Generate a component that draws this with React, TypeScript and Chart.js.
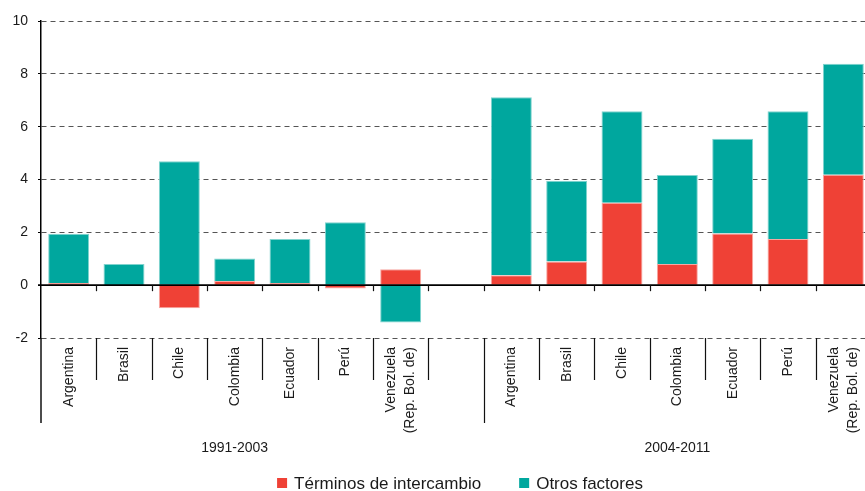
import React, { useEffect, useRef } from "react";
import { Chart, registerables } from "chart.js";

Chart.register(...registerables);

const FONT = "'Liberation Sans', Arial, Helvetica, sans-serif";

// Categories (each label may hold several lines)
const countries: string[][] = [
  ["Argentina"],
  ["Brasil"],
  ["Chile"],
  ["Colombia"],
  ["Ecuador"],
  ["Perú"],
  ["Venezuela", "(Rep. Bol. de)"],
];
const periods = ["1991-2003", "2004-2011"];
const seriesNames = ["Términos de intercambio", "Otros factores"];

// Series values
const terminos1991 = [0.08, 0.01, -0.87, 0.16, 0.08, -0.13, 0.6];
const otros1991 = [1.87, 0.79, 4.69, 0.85, 1.67, 2.38, -1.41];
const terminos2004 = [0.38, 0.9, 3.12, 0.8, 1.96, 1.75, 4.18];
const otros2004 = [6.73, 3.05, 3.46, 3.37, 3.58, 4.83, 4.2];

// Axis
const yMin = -2;
const yMax = 10;
const yStep = 2;

const RED = "#EF4136";
const TEAL = "#00A79E";

const labelLines: string[][] = [...countries, [""], ...countries];
const labels = labelLines.map((l) => l.join(" "));
const terminosData = [...terminos1991, null, ...terminos2004];
const otrosData = [...otros1991, null, ...otros2004];

const overlay = {
  id: "overlay",
  afterDatasetsDraw(chart: any) {
    const { ctx, chartArea: ca, scales } = chart;
    const xs = scales.x;
    const ys = scales.y;
    const y0 = ys.getPixelForValue(0);
    const n = labels.length;
    const groupBounds = [0, countries.length + 1, n];
    ctx.save();

    // zero line
    ctx.strokeStyle = "#000";
    ctx.lineWidth = 1.6;
    ctx.beginPath();
    ctx.moveTo(ca.left - 3, y0);
    ctx.lineTo(ca.right, y0);
    ctx.stroke();

    // slot separators
    for (let i = 0; i <= n; i++) {
      const bx = Math.round(xs.getPixelForValue(i - 0.5)) + 0.5;
      ctx.strokeStyle = "#111";
      if (i > 0) {
        ctx.lineWidth = 1.2;
        ctx.beginPath();
        ctx.moveTo(bx, y0);
        ctx.lineTo(bx, y0 + 6);
        ctx.stroke();
      }
      const long = groupBounds.includes(i);
      ctx.lineWidth = i === 0 ? 1.5 : 1.2;
      ctx.beginPath();
      ctx.moveTo(i === 0 ? ca.left : bx, ca.bottom);
      ctx.lineTo(i === 0 ? ca.left : bx, ca.bottom + (long ? 85 : 42));
      ctx.stroke();
    }

    // category labels (rotated)
    ctx.font = `14px ${FONT}`;
    ctx.fillStyle = "#1a1a1a";
    ctx.textAlign = "right";
    ctx.textBaseline = "middle";
    labelLines.forEach((lines, i) => {
      const cx = xs.getPixelForValue(i);
      lines.forEach((ln, j) => {
        if (!ln) return;
        ctx.save();
        ctx.translate(cx + (j - (lines.length - 1) / 2) * 19, ca.bottom + 9);
        ctx.rotate(-Math.PI / 2);
        ctx.fillText(ln, 0, 0);
        ctx.restore();
      });
    });

    // period labels
    ctx.textAlign = "center";
    periods.forEach((p, g) => {
      const first = g * (countries.length + 1);
      const last = first + countries.length - 1;
      const cx = (xs.getPixelForValue(first) + xs.getPixelForValue(last)) / 2;
      ctx.fillText(p, cx, ca.bottom + 110);
    });

    // legend
    ctx.font = `17px ${FONT}`;
    ctx.textAlign = "left";
    const box = 10;
    const gapBox = 7;
    const gapItem = 38;
    const widths = seriesNames.map((s) => ctx.measureText(s).width);
    const total = widths.reduce((a, w) => a + box + gapBox + w, 0) + gapItem;
    let lx = (ca.left + ca.right) / 2 + 4 - total / 2;
    const ly = ca.bottom + 145;
    [RED, TEAL].forEach((c, k) => {
      ctx.fillStyle = c;
      ctx.fillRect(lx, ly - box / 2, box, box);
      ctx.fillStyle = "#1a1a1a";
      ctx.fillText(seriesNames[k], lx + box + gapBox, ly + 1);
      lx += box + gapBox + widths[k] + gapItem;
    });
    ctx.restore();
  },
};

export default function App() {
  const ref = useRef<HTMLCanvasElement | null>(null);
  useEffect(() => {
    if (!ref.current) return;
    const chart = new Chart(ref.current, {
      type: "bar",
      data: {
        labels,
        datasets: [
          {
            label: seriesNames[0],
            data: terminosData as any,
            backgroundColor: RED,
            borderColor: "#F7A7A1",
            borderWidth: 1,
            stack: "s",
          },
          {
            label: seriesNames[1],
            data: otrosData as any,
            backgroundColor: TEAL,
            borderColor: "#80D3CE",
            borderWidth: 1,
            stack: "s",
          },
        ],
      },
      options: {
        animation: false,
        responsive: false,
        devicePixelRatio: 1,
        events: [],
        layout: { padding: { top: 21, right: 4, left: 0, bottom: 0 } },
        datasets: { bar: { barPercentage: 0.74, categoryPercentage: 1 } },
        plugins: { legend: { display: false }, tooltip: { enabled: false } },
        scales: {
          x: {
            stacked: true,
            grid: { display: false },
            border: { display: false },
            ticks: { display: false },
            afterFit: (s: any) => {
              s.height = 153;
            },
          },
          y: {
            stacked: true,
            min: yMin,
            max: yMax,
            ticks: {
              stepSize: yStep,
              padding: 10,
              color: "#1a1a1a",
              font: { size: 14, family: FONT },
            },
            grid: {
              color: (c: any) => (c.tick && c.tick.value === 0 ? "transparent" : "#555"),
              lineWidth: 1,
              tickLength: 3,
              tickColor: "#000",
              tickWidth: 1.2,
            },
            border: { display: true, color: "#000", width: 1.5, dash: [5, 4] },
            afterFit: (s: any) => {
              s.width = 41;
            },
          },
        },
      },
      plugins: [overlay],
    });
    return () => chart.destroy();
  }, []);
  return (
    <div
      style={{
        position: "fixed",
        left: 0,
        top: 0,
        width: 865,
        height: 491,
        overflow: "hidden",
        background: "#fff",
      }}
    >
      <canvas ref={ref} width={875} height={491} style={{ display: "block", width: 875, height: 491 }} />
    </div>
  );
}
